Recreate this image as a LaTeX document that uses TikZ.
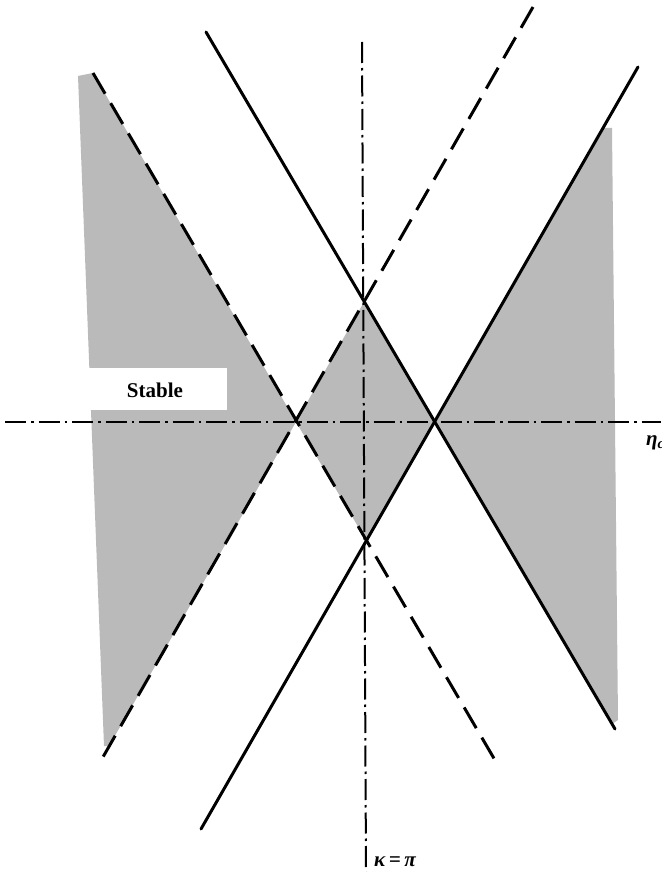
\documentclass[tikz,border=0pt]{standalone}
\usepackage{fontspec}
\setmainfont{Liberation Serif}
\begin{document}
\begin{tikzpicture}[x=1pt,y=-1pt,
  solidline/.style={line width=3pt, line cap=round},
  dashline/.style={line width=3pt, dash pattern=on 24pt off 11pt},
  axisline/.style={line width=2pt, dash pattern=on 21pt off 5pt on 2.5pt off 5pt},
  shadefill/.style={fill=black!27},
  lbl/.style={inner sep=0pt, font=\bfseries\itshape\fontsize{21}{24}\selectfont}]
\useasboundingbox (0,0) rectangle (661,872);
% vertices
\coordinate (T) at (364,302);
\coordinate (B) at (366,540);
\coordinate (L) at (296,422);
\coordinate (R) at (434,422);
% line ends
\coordinate (s1a) at (206,32);
\coordinate (s1b) at (615,729);
\coordinate (s2a) at (638,67);
\coordinate (s2b) at (201,829);
\coordinate (d1a) at (533,7);
\coordinate (d1b) at (103,757);
\coordinate (d2a) at (93,73);
\coordinate (d2b) at (499,767);
% axes ends
\coordinate (hx1) at (5,422);
\coordinate (hx2) at (661,422);
\coordinate (vy1) at (362,42);
\coordinate (vy2) at (366,872);
% shaded regions
\fill[shadefill] (78,76) -- (d2a) -- (L) -- (109,746) -- (104,746) -- cycle;
\fill[shadefill] (R) -- (603,128) -- (612,128) -- (618,720) -- (612,724) -- cycle;
\fill[shadefill] (T) -- (R) -- (B) -- (L) -- cycle;
% Stable label box
\fill[white] (60,368) rectangle (227,410);
\node[inner sep=0pt, font=\bfseries\fontsize{21}{24}\selectfont] (stable) at (155,390) {Stable};
% axes
\draw[axisline] (hx1) -- (hx2);
\draw[axisline] (vy1) -- (vy2);
% lines
\draw[solidline] (s1a) -- (s1b);
\draw[solidline] (s2a) -- (s2b);
\draw[dashline] (d1a) -- (d1b);
\draw[dashline] (d2a) -- (d2b);
% labels
\node[lbl, anchor=base west] (eta) at (646,445) {η\textsubscript{c}};
\node[lbl, anchor=base west] (kappa) at (374,866) {κ\,=\,π};
\end{tikzpicture}
\end{document}
